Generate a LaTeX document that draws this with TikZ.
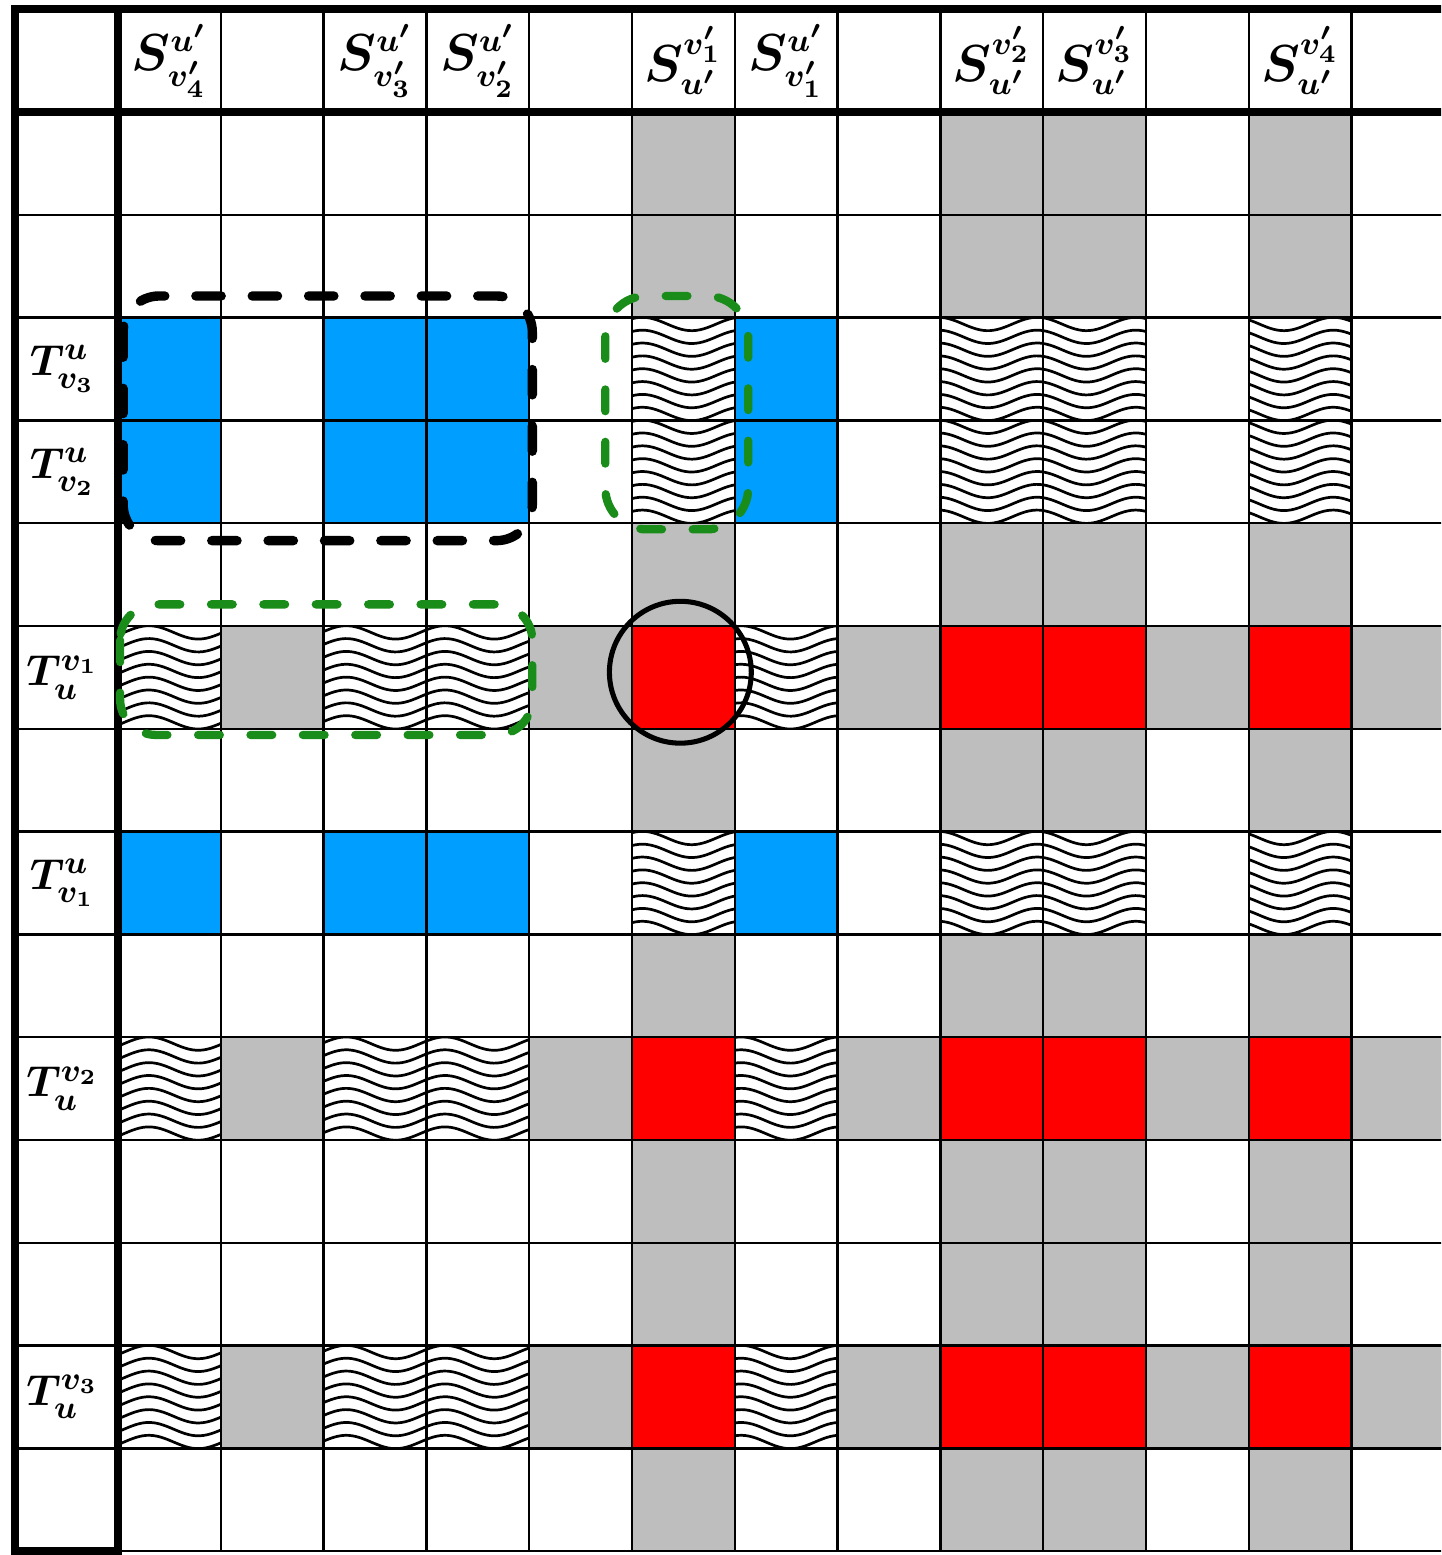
\documentclass[tikz,border=0pt]{standalone}
\usepackage{amsmath}
\usepackage{tikz}

\definecolor{cellgray}{RGB}{190,190,190}
\definecolor{cellblue}{RGB}{0,158,255}
\definecolor{cellred}{RGB}{255,0,0}
\definecolor{markgreen}{RGB}{25,140,25}

% one hatched cell: column #1, row #2
\newcommand{\wavybox}[2]{%
  \begin{scope}[shift={(#1-1,-#2+1)}]
    \clip (0,0) rectangle (1,-1);
    \foreach \k in {0,...,7}
      \draw[waveline] plot[domain=0:1, samples=30, smooth]
        (\x, {-0.0625-\k*0.125+0.065*cos(360*(\x+#1-1-0.3)/0.96)});
  \end{scope}}

\begin{document}
\begin{tikzpicture}[
    x=1cm, y=1cm,
    gridline/.style={line width=0.65pt},
    frameline/.style={line width=2.3pt},
    waveline/.style={line width=0.75pt},
    blackdash/.style={line width=2.6pt, dash pattern=on 7pt off 8.6pt, line cap=round},
    greendash/.style={line width=2.3pt, markgreen, dash pattern=on 6pt off 8.5pt, line cap=round},
    ringline/.style={line width=1.4pt},
    colhead/.style={font=\fontsize{13.5}{16}\selectfont\boldmath},
    rowhead/.style={font=\fontsize{12.5}{15}\selectfont\boldmath}
]

\useasboundingbox (-1.148,-14.037) rectangle (12.870,1.089);
\fill[white] (-1.148,-14.037) rectangle (12.870,1.089);
\clip (-1.148,-14.037) rectangle (12.870,1.089);

% Gray columns and rows
\foreach \c in {6,9,10,12}
  \foreach \r in {1,2,5,7,9,11,12,14}
    \fill[cellgray] (\c-1,-\r+1) rectangle (\c,-\r);
\foreach \r in {6,10,13}
  \foreach \c in {2,5,8,11,13}
    \fill[cellgray] (\c-1,-\r+1) rectangle (\c,-\r);

% Blue cells
\foreach \r in {3,4,8}
  \foreach \c in {1,3,4,7}
    \fill[cellblue] (\c-1,-\r+1) rectangle (\c,-\r);

% Red cells
\foreach \r in {6,10,13}
  \foreach \c in {6,9,10,12}
    \fill[cellred] (\c-1,-\r+1) rectangle (\c,-\r);

% Wavy cells
\foreach \r in {3,4,8}
  \foreach \c in {6,9,10,12}
    {\wavybox{\c}{\r}}
\foreach \r in {6,10,13}
  \foreach \c in {1,3,4,7}
    {\wavybox{\c}{\r}}

% Grid
\foreach \c in {1,...,12}
  \draw[gridline] (\c,1) -- (\c,-14);
\foreach \r in {1,...,13}
  \draw[gridline] (-1,-\r) -- (13,-\r);
\draw[gridline] (0,-14) -- (13,-14);

% Frame
\draw[frameline] (-1,1) -- (13,1);
\draw[frameline] (-1,0) -- (13,0);
\draw[frameline] (-1,1) rectangle (0,-14);

% Marked regions
\draw[blackdash, rounded corners=0.35cm] (0.05,-1.79) rectangle (4.03,-4.17);
\draw[greendash, rounded corners=0.4cm] (4.74,-1.79) rectangle (6.13,-4.06);
\draw[greendash, rounded corners=0.35cm] (0.02,-4.79) rectangle (4.03,-6.06);
\draw[ringline] (5.47,-5.45) circle[radius=0.69];

% Column heads
\node[colhead] (s1) at (0.5,0.5) {$S^{u'}_{v'_4}$};
\node[colhead] (s3) at (2.5,0.5) {$S^{u'}_{v'_3}$};
\node[colhead] (s4) at (3.5,0.5) {$S^{u'}_{v'_2}$};
\node[colhead] (s6) at (5.5,0.5) {$S^{v'_1}_{u'}$};
\node[colhead] (s7) at (6.5,0.5) {$S^{u'}_{v'_1}$};
\node[colhead] (s9) at (8.5,0.5) {$S^{v'_2}_{u'}$};
\node[colhead] (s10) at (9.5,0.5) {$S^{v'_3}_{u'}$};
\node[colhead] (s12) at (11.5,0.5) {$S^{v'_4}_{u'}$};

% Row heads
\node[rowhead] (t3) at (-0.54,-2.5) {$T^{u}_{v_3}$};
\node[rowhead] (t4) at (-0.54,-3.5) {$T^{u}_{v_2}$};
\node[rowhead] (t6) at (-0.54,-5.5) {$T^{v_1}_{u}$};
\node[rowhead] (t8) at (-0.54,-7.5) {$T^{u}_{v_1}$};
\node[rowhead] (t10) at (-0.54,-9.5) {$T^{v_2}_{u}$};
\node[rowhead] (t13) at (-0.54,-12.5) {$T^{v_3}_{u}$};

\end{tikzpicture}
\end{document}
